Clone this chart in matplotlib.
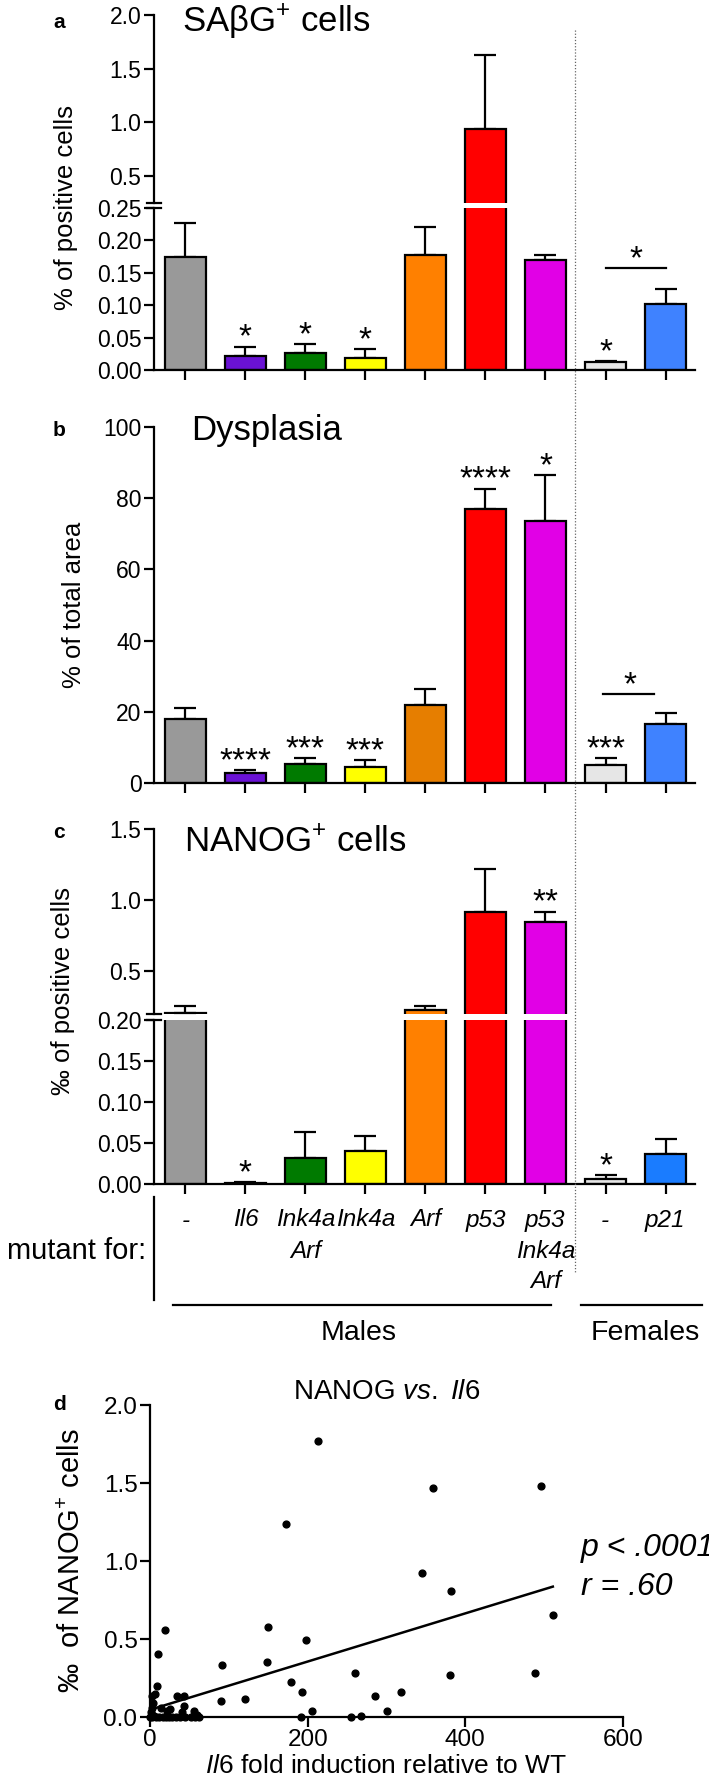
import numpy as np
import matplotlib.pyplot as plt
from matplotlib.lines import Line2D

plt.rcParams['font.family'] = ['Liberation Sans', 'DejaVu Sans']
plt.rcParams['mathtext.fontset'] = 'custom'
plt.rcParams['mathtext.rm'] = 'Liberation Sans'
plt.rcParams['mathtext.it'] = 'Liberation Sans:italic'

W, H = 709, 1791

# ---- data ----
bar_cols = ['#999999', '#6A12D4', '#007A00', '#FFFF00', '#FF8000', '#FF0000', '#E100E6', '#E6E6E6', '#3F82FF']
bar_cols_b = ['#999999', '#6A12D4', '#007A00', '#FFFF00', '#E67E00', '#FF0000', '#E100E6', '#E6E6E6', '#3F82FF']
bar_cols_c = ['#999999', '#6A12D4', '#007A00', '#FFFF00', '#FF8000', '#FF0000', '#E100E6', '#E6E6E6', '#1A7CFF']

sabg = [0.175, 0.021, 0.026, 0.018, 0.178, 0.94, 0.17, 0.012, 0.102]
sabg_err = [0.052, 0.015, 0.014, 0.014, 0.042, 0.69, 0.007, 0.002, 0.023]
sabg_stars = ['', '*', '*', '*', '', '', '', '*', '']

dysp = [18, 2.8, 5.2, 4.5, 22, 77, 73.5, 5, 16.5]
dysp_err = [3, 0.8, 1.8, 2, 4.3, 5.7, 13, 2, 3.3]
dysp_stars = ['', '****', '***', '***', '', '****', '*', '***', '']

nanog = [0.21, 0.001, 0.032, 0.04, 0.225, 0.92, 0.845, 0.006, 0.037]
nanog_err = [0.045, 0.001, 0.031, 0.018, 0.03, 0.30, 0.075, 0.005, 0.018]
nanog_stars = ['', '*', '', '', '', '', '**', '*', '']

mutants = [['-'], ['Il6'], ['Ink4a', 'Arf'], ['Ink4a'], ['Arf'], ['p53'],
           ['p53', 'Ink4a', 'Arf'], ['-'], ['p21']]

il6 = [213.5, 359, 496, 173, 345, 382, 511, 18.5, 150, 198.5, 10, 91, 148, 260, 381, 488,
       8.5, 179, 193, 318, 286, 121, 90, 301, 205, 191, 255, 268,
       2, 6, 4, 34, 43, 43, 21, 26, 40, 56, 59, 3, 14, 0, 2, 5, 8, 12, 16, 20, 24, 28,
       33, 38, 45, 52, 57, 62, 1, 3]
nanog_pts = [1.77, 1.47, 1.48, 1.24, 0.92, 0.81, 0.655, 0.555, 0.575, 0.495, 0.405, 0.335, 0.35,
             0.285, 0.267, 0.28, 0.20, 0.222, 0.158, 0.162, 0.132, 0.115, 0.105, 0.041, 0.036,
             0.0, 0.0, 0.004,
             0.137, 0.15, 0.09, 0.137, 0.137, 0.068, 0.036, 0.05, 0.03, 0.04, 0.015, 0.015, 0.06,
             0.0, 0.0, 0.005, 0.0, 0.0, 0.0, 0.0, 0.0, 0.0, 0.0, 0.0, 0.0, 0.0, 0.0, 0.0, 0.03, 0.06]

fig = plt.figure(figsize=(W / 100, H / 100), dpi=100)
L, R = 154, 695
x = np.arange(9)


def fx(px):
    return px / W


def fy(py):
    return 1 - py / H


def make_ax(top, bottom, ylim, upper=False, left=L, right=R):
    ax = fig.add_axes([fx(left), fy(bottom), (right - left) / W, (bottom - top) / H])
    ax.set_ylim(ylim)
    ax.patch.set_alpha(0)
    for s in ['top', 'right']:
        ax.spines[s].set_visible(False)
    for s in ['left', 'bottom']:
        ax.spines[s].set_linewidth(1.6)
    ax.tick_params(direction='out', length=7, width=1.6, labelsize=16.5, pad=2)
    if upper:
        ax.spines['bottom'].set_visible(False)
        ax.set_xticks([])
    return ax


def bar_panel(ax, vals, errs, cols):
    ax.set_xlim(-0.52, 8.49)
    lo = ax.get_ylim()[0]
    # in an upper (broken) axis only the bars that reach into it are drawn
    vals = np.array(vals, dtype=float)
    keep = vals > lo
    xs, vs, es = x[keep], vals[keep], np.array(errs)[keep]
    cs = [c for c, k in zip(cols, keep) if k]
    ax.bar(xs, vs, width=0.68, color=cs, edgecolor='black', linewidth=1.6, zorder=2)
    ax.errorbar(xs, vs, yerr=[np.zeros(len(xs)), es], fmt='none', ecolor='black',
                elinewidth=1.6, capsize=8, capthick=1.6, zorder=1)
    ax.set_xticks(x)
    ax.set_xticklabels([])


def stars(ax, xs, tops, s):
    ax.annotate(s, (xs, tops), xytext=(0, 0), textcoords='offset points', ha='center',
                va='baseline', fontsize=24, annotation_clip=False)


def break_marks(y1, y2):
    for yy in (y1, y2):
        fig.add_artist(Line2D([fx(L - 7), fx(L + 7)], [fy(yy), fy(yy)], color='black', lw=1.6))


# ---- panel a ----
a_lo = make_ax(208, 370, (0, 0.25))
a_hi = make_ax(15, 203, (0.25, 2.0), upper=True)
for ax in (a_lo, a_hi):
    bar_panel(ax, sabg, sabg_err, bar_cols)
a_hi.set_xticks([])
a_lo.set_yticks(np.arange(0, 0.26, 0.05))
a_lo.set_yticklabels(['%.2f' % v for v in np.arange(0, 0.26, 0.05)])
a_hi.set_yticks([0.5, 1.0, 1.5, 2.0])
a_hi.set_yticklabels(['0.5', '1.0', '1.5', '2.0'])
break_marks(203, 208)
for i, s in enumerate(sabg_stars):
    if s:
        stars(a_lo, x[i], sabg[i] + sabg_err[i], s)
a_lo.plot([7, 8], [0.157, 0.157], color='black', lw=1.6, clip_on=False)
stars(a_lo, 7.5, 0.157, '*')

# ---- panel b ----
b = make_ax(427, 783, (0, 100))
bar_panel(b, dysp, dysp_err, bar_cols_b)
b.set_yticks([0, 20, 40, 60, 80, 100])
for i, s in enumerate(dysp_stars):
    if s:
        stars(b, x[i], dysp[i] + dysp_err[i], s)
b.plot([6.95, 7.8], [25, 25], color='black', lw=1.6, clip_on=False)
stars(b, 7.4, 25, '*')

# ---- panel c ----
c_lo = make_ax(1020, 1184, (0, 0.2))
c_hi = make_ax(829, 1014, (0.2, 1.5), upper=True)
for ax in (c_lo, c_hi):
    bar_panel(ax, nanog, nanog_err, bar_cols_c)
c_hi.set_xticks([])
c_lo.set_yticks(np.arange(0, 0.21, 0.05))
c_lo.set_yticklabels(['%.2f' % v for v in np.arange(0, 0.21, 0.05)])
c_hi.set_yticks([0.5, 1.0, 1.5])
c_hi.set_yticklabels(['0.5', '1.0', '1.5'])
break_marks(1014, 1020)
for i, s in enumerate(nanog_stars):
    if s:
        top = nanog[i] + nanog_err[i]
        stars(c_hi if top > 0.2 else c_lo, x[i], top, s)

# dotted separator between males and females
fig.add_artist(Line2D([fx(575), fx(575)], [fy(30), fy(1273)], color='#666666', lw=0.9,
                      linestyle=(0, (1, 1.5))))

# panel letters, titles, y labels
for lab, yy in [('a', 22), ('b', 430), ('c', 832), ('d', 1405)]:
    fig.text(fx(59), fy(yy), lab, fontsize=15, fontweight='bold', ha='center', va='center')
fig.text(fx(182), fy(32), 'SAβG$^{+}$ cells', fontsize=25, va='baseline')
fig.text(fx(191), fy(440), 'Dysplasia', fontsize=25, va='baseline')
fig.text(fx(184), fy(852), 'NANOG$^{+}$ cells', fontsize=25, va='baseline')
fig.text(fx(66), fy(208), '% of positive cells', fontsize=18.5, rotation=90, ha='center', va='center')
fig.text(fx(74), fy(605), '% of total area', fontsize=18.5, rotation=90, ha='center', va='center')
fig.text(fx(63), fy(991), '‰ of positive cells', fontsize=18.5, rotation=90, ha='center', va='center')

# ---- genotype labels ----
row_y = [1220, 1251, 1282]
centers = [185.7 + 59.94 * i for i in range(9)]
for cx, genes in zip(centers, mutants):
    for j, g in enumerate(genes):
        fig.text(fx(cx), fy(row_y[j]), g, fontsize=17.5, style='italic', ha='center', va='center')
fig.text(fx(146), fy(1251), 'mutant for:', fontsize=21, ha='right', va='center')
fig.add_artist(Line2D([fx(154), fx(154)], [fy(1197), fy(1300)], color='black', lw=1.6))
fig.add_artist(Line2D([fx(173), fx(551)], [fy(1305), fy(1305)], color='black', lw=1.6))
fig.add_artist(Line2D([fx(581), fx(702)], [fy(1305), fy(1305)], color='black', lw=1.6))
fig.text(fx(359), fy(1333), 'Males', fontsize=20.5, ha='center', va='center')
fig.text(fx(645), fy(1333), 'Females', fontsize=20.5, ha='center', va='center')

# ---- panel d ----
d = make_ax(1405, 1717, (0, 2.0), left=150, right=623)
d.set_xlim(0, 600)
d.set_xticks([0, 200, 400, 600])
d.set_yticks([0, 0.5, 1.0, 1.5, 2.0])
d.set_yticklabels(['0.0', '0.5', '1.0', '1.5', '2.0'])
d.tick_params(labelsize=17.5)
d.scatter(il6, nanog_pts, s=24, color='black', zorder=3, clip_on=False)
slope, icpt = np.polyfit(il6, nanog_pts, 1)
xl = np.array([min(il6), max(il6)])
d.plot(xl, slope * xl + icpt, color='black', lw=1.8)
d.set_title(r'NANOG $\mathit{vs.}$ $\mathit{Il6}$', fontsize=20, pad=2)
d.set_xlabel(r'$\mathit{Il6}$ fold induction relative to WT', fontsize=19, labelpad=2)
fig.text(fx(72), fy(1561), '‰  of NANOG$^{+}$ cells', fontsize=21, rotation=90, ha='center',
         va='center')
fig.text(fx(581), fy(1548), 'p < .0001', fontsize=23, style='italic', va='center')
fig.text(fx(581), fy(1587), 'r = .60', fontsize=23, style='italic', va='center')

fig.savefig('out.png', dpi=100)
